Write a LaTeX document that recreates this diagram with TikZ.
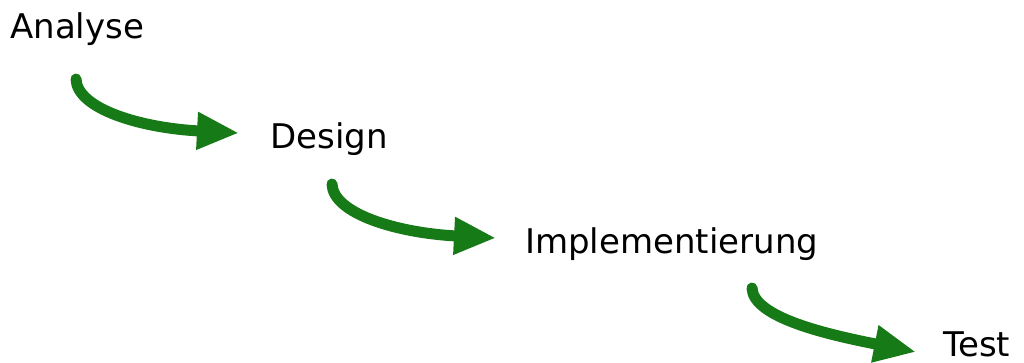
\documentclass[tikz,border=0pt]{standalone}
\usepackage{fontspec}
\setmainfont{DejaVu Sans}
\usetikzlibrary{arrows.meta}
\definecolor{flowgreen}{RGB}{22,122,22}
\begin{document}
\begin{tikzpicture}[x=1pt,y=-1pt,
  phase/.style={anchor=base west,inner sep=0pt,font=\fontsize{34}{40}\selectfont},
  flow/.style={draw=flowgreen,line width=11pt,line cap=round,
    -{Triangle[length=42pt,width=35pt]}}]
  \useasboundingbox (0,0) rectangle (1024,362);
  % phase labels
  \node[phase] (analyse) at (10,38) {Analyse};
  \node[phase] (design) at (270,148) {Design};
  \node[phase] (impl) at (525,253) {Implementierung};
  \node[phase] (test) at (943,356) {Test};
  % arrow end points
  \coordinate (s1) at (76,79);
  \coordinate (e1) at (239,133);
  \coordinate (s2) at (332,184);
  \coordinate (e2) at (496,238);
  \coordinate (s3) at (752,288);
  \coordinate (e3) at (916,352);
  % curved flow arrows
  \draw[flow] (s1) .. controls +(1,30) and +(-98,-5) .. (e1);
  \draw[flow] (s2) .. controls +(1,30) and +(-98,-5) .. (e2);
  \draw[flow] (s3) .. controls +(1,30) and +(-86,-17) .. (e3);
\end{tikzpicture}
\end{document}
